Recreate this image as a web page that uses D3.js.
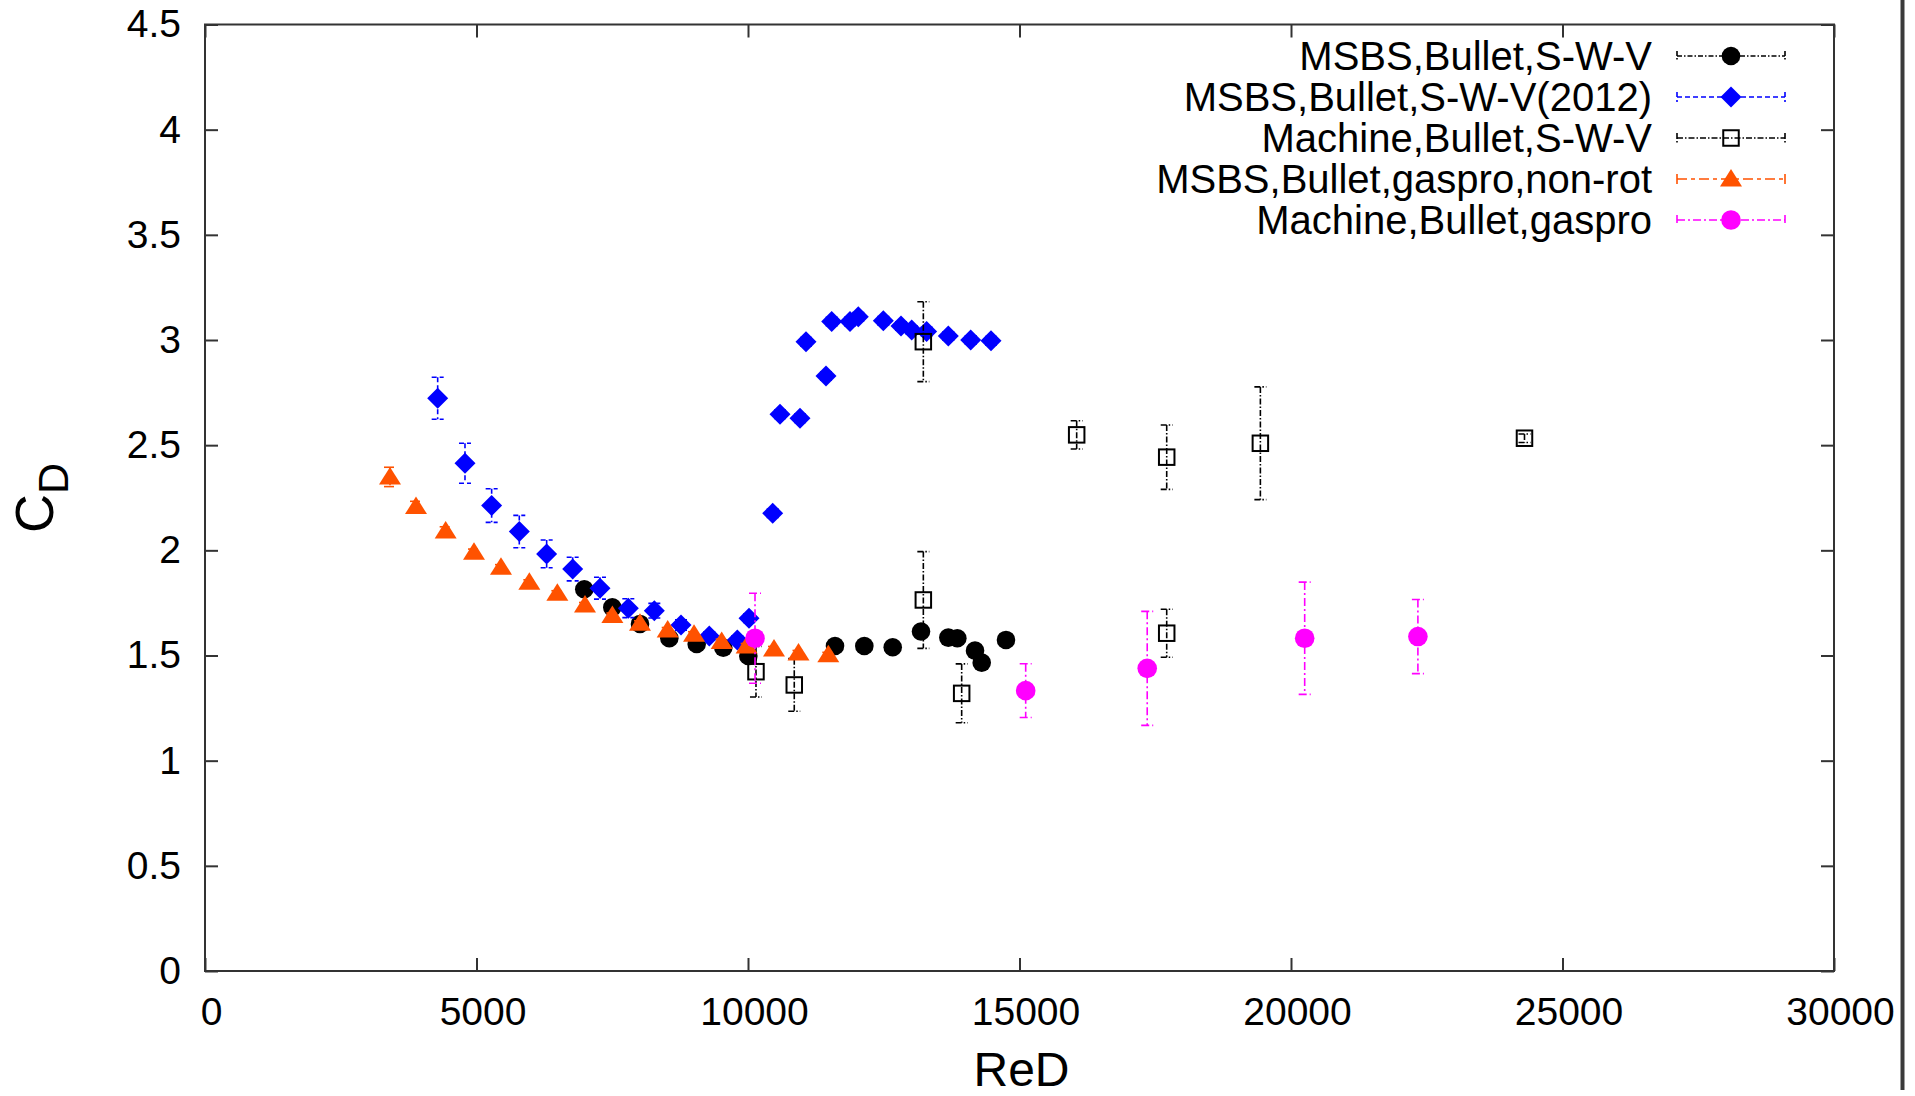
<!DOCTYPE html>
<html>
<head>
<meta charset="utf-8">
<script src="https://cdn.jsdelivr.net/npm/d3@7"></script>
<style>
  html, body { margin: 0; padding: 0; background: #fff; }
  svg { display: block; font-family: "Liberation Sans", Arial, sans-serif; }
</style>
</head>
<body>
<svg id="chart" width="1915" height="1096"></svg>
<script>
// ---------- data ----------
const xTicks = [0, 5000, 10000, 15000, 20000, 25000, 30000];
const xTickLabels = ["0", "5000", "10000", "15000", "20000", "25000", "30000"];
const yTicks = [0, 0.5, 1, 1.5, 2, 2.5, 3, 3.5, 4, 4.5];
const yTickLabels = ["0", "0.5", "1", "1.5", "2", "2.5", "3", "3.5", "4", "4.5"];

const seriesNames = [
  "MSBS,Bullet,S-W-V",
  "MSBS,Bullet,S-W-V(2012)",
  "Machine,Bullet,S-W-V",
  "MSBS,Bullet,gaspro,non-rot",
  "Machine,Bullet,gaspro"
];

// MSBS,Bullet,S-W-V (black filled circles)
const blackX = [6985, 7501, 8011, 8551, 9055, 9545, 10006, 11602, 12142, 12665, 13186, 13689, 13855, 14181, 14304, 14751];
const blackY = [1.815, 1.729, 1.650, 1.582, 1.555, 1.537, 1.498, 1.545, 1.545, 1.539, 1.614, 1.585, 1.582, 1.523, 1.466, 1.574];
const blackErr = [0.02, 0.02, 0.02, 0.02, 0.02, 0.02, 0.02, 0.02, 0.02, 0.02, 0.02, 0.02, 0.02, 0.02, 0.02, 0.02];

// MSBS,Bullet,S-W-V(2012) (blue diamonds)
const blueX = [4285, 4788, 5279, 5788, 6292, 6771, 7274, 7796, 8275, 8766, 9287, 9803, 10018, 10455, 10589, 10958, 11436, 11068, 11541, 11878, 12031, 12492, 12818, 13014, 13290, 13689, 14101, 14475];
const blueY = [2.723, 2.414, 2.213, 2.089, 1.983, 1.911, 1.820, 1.725, 1.713, 1.645, 1.593, 1.574, 1.677, 2.176, 2.647, 2.628, 2.829, 2.992, 3.088, 3.088, 3.111, 3.091, 3.067, 3.048, 3.040, 3.019, 3.000, 2.996];
const blueErr = [0.100, 0.095, 0.080, 0.077, 0.066, 0.056, 0.052, 0.045, 0.035, 0.025, 0.02, 0.02, 0.02, 0.02, 0.02, 0.02, 0.02, 0.02, 0.02, 0.02, 0.02, 0.02, 0.02, 0.02, 0.02, 0.02, 0.02, 0.02];

// Machine,Bullet,S-W-V (open squares)
const squareX = [10147, 10852, 13229, 13229, 13935, 16053, 17711, 19436, 24300, 17711];
const squareY = [1.423, 1.360, 2.992, 1.764, 1.320, 2.549, 2.443, 2.509, 2.533, 1.606];
const squareErr = [0.120, 0.125, 0.190, 0.230, 0.140, 0.067, 0.153, 0.268, 0.020, 0.114];

// MSBS,Bullet,gaspro,non-rot (orange triangles)
const orangeX = [3407, 3886, 4432, 4954, 5451, 5973, 6489, 6998, 7502, 8011, 8521, 9006, 9515, 9975, 10479, 10930, 11479];
const orangeY = [2.349, 2.208, 2.092, 1.991, 1.920, 1.848, 1.796, 1.740, 1.690, 1.653, 1.621, 1.601, 1.566, 1.545, 1.531, 1.512, 1.503];
const orangeErr = [0.046, 0.025, 0.020, 0.015, 0.012, 0.012, 0.012, 0.012, 0.012, 0.012, 0.012, 0.012, 0.012, 0.012, 0.012, 0.012, 0.012];

// Machine,Bullet,gaspro (magenta circles)
const magentaX = [10129, 15114, 17352, 20252, 22337];
const magentaY = [1.582, 1.333, 1.439, 1.582, 1.590];
const magentaErr = [0.214, 0.128, 0.271, 0.267, 0.176];

// ---------- layout ----------
const svg = d3.select("#chart");
const L = 205, R = 1834, T = 24.5, B = 971;
const x = d3.scaleLinear().domain([0, 30000]).range([L, R]);
const y = d3.scaleLinear().domain([0, 4.5]).range([B, T]);
const axisColor = "#333";

// right frame edge of the original picture
svg.append("line").attr("x1", 1902.5).attr("x2", 1902.5).attr("y1", 0).attr("y2", 1090)
  .attr("stroke", "#3a3a3a").attr("stroke-width", 4);

// axes
function styleAxis(g) {
  g.select(".domain").remove();
  g.selectAll(".tick line").attr("stroke", axisColor).attr("stroke-width", 2);
  g.selectAll(".tick text").attr("fill", "#000").attr("font-size", 39)
    .attr("font-family", "Liberation Sans, Arial, sans-serif");
}
svg.append("g").attr("transform", `translate(0,${B})`)
  .call(d3.axisBottom(x).tickValues(xTicks).tickFormat((d, i) => xTickLabels[i])
    .tickSizeInner(-13).tickSizeOuter(0).tickPadding(26))
  .call(styleAxis)
  .call(g => g.selectAll(".tick text").attr("dx", 6));
svg.append("g").attr("transform", `translate(0,${T})`)
  .call(d3.axisTop(x).tickValues(xTicks).tickFormat("").tickSizeInner(-13).tickSizeOuter(0))
  .call(styleAxis);
svg.append("g").attr("transform", `translate(${L},0)`)
  .call(d3.axisLeft(y).tickValues(yTicks).tickFormat((d, i) => yTickLabels[i])
    .tickSizeInner(-13).tickSizeOuter(0).tickPadding(24))
  .call(styleAxis);
svg.append("g").attr("transform", `translate(${R},0)`)
  .call(d3.axisRight(y).tickValues(yTicks).tickFormat("").tickSizeInner(-13).tickSizeOuter(0))
  .call(styleAxis);

svg.append("rect").attr("x", L).attr("y", T).attr("width", R - L).attr("height", B - T)
  .attr("fill", "none").attr("stroke", axisColor).attr("stroke-width", 2);

// ---------- markers ----------
const markers = {
  circle: (g, color, r) => g.append("circle").attr("r", r).attr("fill", color),
  diamond: (g, color) => g.append("path").attr("d", "M0,-10.5L10.5,0L0,10.5L-10.5,0Z").attr("fill", color),
  square: (g, color) => g.append("rect").attr("x", -7.75).attr("y", -7.75).attr("width", 15.5).attr("height", 15.5)
    .attr("fill", "none").attr("stroke", color).attr("stroke-width", 2),
  triangle: (g, color) => g.append("path").attr("d", "M0,-10L11,7.5L-11,7.5Z").attr("fill", color)
};

const series = [
  { name: seriesNames[0], xs: blackX, ys: blackY, es: blackErr, color: "#000000", marker: "circle", r: 9.3, dash: "5,2,1.5,2" },
  { name: seriesNames[1], xs: blueX, ys: blueY, es: blueErr, color: "#0000ff", marker: "diamond", dash: "5,3" },
  { name: seriesNames[2], xs: squareX, ys: squareY, es: squareErr, color: "#000000", marker: "square", dash: "6,2,1.5,2" },
  { name: seriesNames[3], xs: orangeX, ys: orangeY, es: orangeErr, color: "#ff5200", marker: "triangle", dash: "10,4,4,4" },
  { name: seriesNames[4], xs: magentaX, ys: magentaY, es: magentaErr, color: "#ff00ff", marker: "circle", r: 9.8, dash: "8,3,2,3" }
];

const cap = 6;
series.forEach(s => {
  const g = svg.append("g");
  const pts = s.xs.map((v, i) => ({ x: v, y: s.ys[i], e: s.es[i] }));
  // error bars
  pts.forEach(p => {
    const px = x(p.x), y1 = y(p.y + p.e), y2 = y(p.y - p.e);
    const eb = g.append("g").attr("stroke", s.color).attr("stroke-width", 1.6)
      .attr("stroke-dasharray", s.dash).attr("fill", "none");
    eb.append("line").attr("x1", px).attr("x2", px).attr("y1", y1).attr("y2", y2);
    eb.append("line").attr("x1", px - cap).attr("x2", px + cap).attr("y1", y1).attr("y2", y1);
    eb.append("line").attr("x1", px - cap).attr("x2", px + cap).attr("y1", y2).attr("y2", y2);
  });
  // markers
  pts.forEach(p => {
    const mg = g.append("g").attr("transform", `translate(${x(p.x)},${y(p.y)})`);
    markers[s.marker](mg, s.color, s.r);
  });
});

// ---------- legend ----------
const legTextX = 1652, legX1 = 1677, legX2 = 1785, legMid = 1731;
series.forEach((s, i) => {
  const cy = 56 + i * 41;
  const g = svg.append("g");
  g.append("text").attr("x", legTextX).attr("y", cy + 14).attr("text-anchor", "end")
    .attr("font-size", 40).attr("fill", "#000").text(s.name);
  const lg = g.append("g").attr("stroke", s.color).attr("stroke-width", 1.6).attr("stroke-dasharray", s.dash);
  lg.append("line").attr("x1", legX1).attr("x2", legX2).attr("y1", cy).attr("y2", cy);
  lg.append("line").attr("x1", legX1).attr("x2", legX1).attr("y1", cy - 5).attr("y2", cy + 5).attr("stroke-dasharray", null);
  lg.append("line").attr("x1", legX2).attr("x2", legX2).attr("y1", cy - 5).attr("y2", cy + 5).attr("stroke-dasharray", null);
  const mg = g.append("g").attr("transform", `translate(${legMid},${cy})`);
  markers[s.marker](mg, s.color, s.r);
});

// ---------- axis titles ----------
const yl = svg.append("text").attr("transform", "translate(53,533) rotate(-90)")
  .attr("font-size", 54).attr("fill", "#000");
yl.append("tspan").text("C");
yl.append("tspan").attr("font-size", 43).attr("dy", 15).text("D");

svg.append("text").attr("x", (L + R) / 2 + 2).attr("y", 1086).attr("text-anchor", "middle")
  .attr("font-size", 48).attr("fill", "#000").text("ReD");

// the original picture is cut off at the bottom
svg.append("rect").attr("x", 0).attr("y", 1090).attr("width", 1915).attr("height", 6).attr("fill", "#fff");
</script>
</body>
</html>
